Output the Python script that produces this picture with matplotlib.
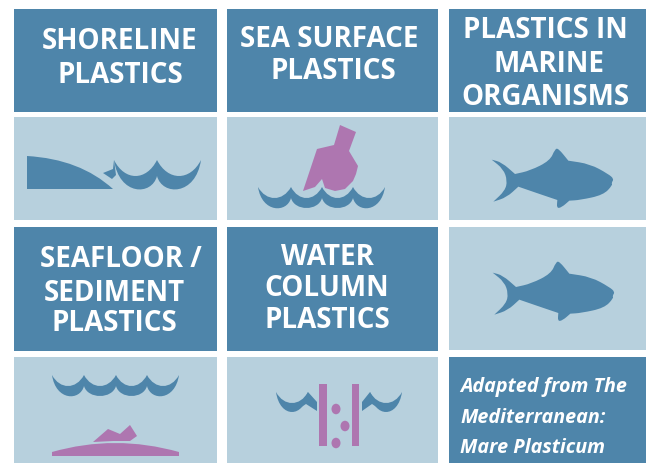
import matplotlib
matplotlib.use("Agg")
import matplotlib.pyplot as plt
from matplotlib.patches import Rectangle, Polygon, PathPatch, Ellipse
from matplotlib.path import Path

DARK = "#4e85aa"
LIGHT = "#b7d0dd"
PURPLE = "#ae76b0"

headers = [
    (14, 10, 217, 113),
    (227, 10, 438, 113),
    (449, 10, 646, 113),
    (14, 228, 217, 352),
    (227, 228, 438, 352),
    (449, 358, 646, 464),
]
panels = [
    (14, 118, 217, 221),
    (227, 118, 438, 221),
    (449, 118, 646, 221),
    (449, 228, 646, 351),
    (14, 358, 217, 464),
    (227, 358, 438, 464),
]
# text, centre x, y of each line
labels = [
    ("SHORELINE", 120, 39), ("PLASTICS", 120, 73),
    ("SEA SURFACE", 329, 37), ("PLASTICS", 333, 69),
    ("PLASTICS IN", 545, 28), ("MARINE", 549, 62), ("ORGANISMS", 545, 95),
    ("SEAFLOOR /", 121, 257), ("SEDIMENT", 114, 291), ("PLASTICS", 114, 321),
    ("WATER", 327, 255), ("COLUMN", 327, 286), ("PLASTICS", 327, 318),
]
note_lines = ["Adapted from The", "Mediterranean:", "Mare Plasticum"]
note_y = [385, 416, 446]

shore_tip = [(114, 161), (113, 170), (103, 174), (112, 180), (116, 176)]
bottle = [(340, 126), (356, 133), (349, 152), (358, 167), (356, 175), (353, 182), (345, 190),
          (335, 192), (325, 189), (322, 180), (315, 188), (303, 192), (317, 150), (334, 146)]
debris = [(93, 443), (108, 430), (120, 435), (130, 426), (137, 437), (130, 442), (113, 442)]
# repeated points stay sharp when the outline is smoothed
fish = [(155, 122), (155, 122), (185, 130), (225, 165), (225, 165), (270, 155), (330, 125),
        (345, 90), (355, 88), (385, 125), (385, 125), (450, 135), (505, 165), (522, 180),
        (514, 192), (518, 198), (490, 228), (420, 243), (388, 245), (388, 245),
        (365, 265), (350, 268), (352, 243), (352, 243), (290, 222), (235, 203), (235, 203),
        (200, 235), (160, 248), (160, 248), (195, 215), (202, 185), (190, 150)]

# scallop cusps: x positions, cusp y, bottom y, inner y
wave_shore = ([114, 157, 201], 161, 190, 177)
wave_sea = ([258, 291, 322, 353, 385], 188, 209, 199)
wave_floor = ([52, 84, 116, 147, 179], 376, 397, 387)
wave_left = ([276, 308], 393, 413, 404)
wave_right = ([370, 402], 393, 413, 404)
col_bars = [(319, 385, 327, 447), (352, 385, 359, 447)]
col_dots = [(336, 410), (345, 427), (336, 444)]


def wave_path(xs, top, bottom, inner):
    verts = [(xs[0], top)]
    codes = [Path.MOVETO]
    notch = inner
    n = len(xs) - 1
    # lower edge going right, notches between scallops
    for i in range(n):
        a, b = xs[i], xs[i + 1]
        w = b - a
        ya = top if i == 0 else notch
        yb = top if i == n - 1 else notch
        c = bottom + (bottom - (ya + yb) / 2) / 3
        verts += [(a + 0.12 * w, c), (b - 0.12 * w, c), (b, yb)]
        codes += [Path.CURVE4] * 3
    # upper edge coming back, sharp cusps
    for i in range(n - 1, -1, -1):
        a, b = xs[i], xs[i + 1]
        w = b - a
        c = top + (inner - top) * 4 / 3
        verts += [(b - 0.25 * w, c), (a + 0.25 * w, c), (a, top)]
        codes += [Path.CURVE4] * 3
    return Path(verts, codes)


def smooth_path(points):
    start = ((points[-1][0] + points[0][0]) / 2, (points[-1][1] + points[0][1]) / 2)
    verts = [start]
    codes = [Path.MOVETO]
    for i, p in enumerate(points):
        q = points[(i + 1) % len(points)]
        verts += [p, ((p[0] + q[0]) / 2, (p[1] + q[1]) / 2)]
        codes += [Path.CURVE3, Path.CURVE3]
    return Path(verts, codes)


fig = plt.figure(figsize=(6.48, 4.64), dpi=100)
ax = fig.add_axes([0, 0, 1, 1])
ax.set_xlim(0, 648)
ax.set_ylim(464, 0)
ax.axis("off")

for x0, y0, x1, y1 in headers:
    ax.add_patch(Rectangle((x0, y0), x1 - x0, y1 - y0, color=DARK, lw=0))
for x0, y0, x1, y1 in panels:
    ax.add_patch(Rectangle((x0, y0), x1 - x0, y1 - y0, color=LIGHT, lw=0))

for line, cx, y in labels:
    ax.text(cx, y + 2.5, line, color="white", fontsize=20, fontweight="bold", family="Open Sans",
            ha="center", va="center")
for line, y in zip(note_lines, note_y):
    ax.text(460, y + 2, line, color="white", fontsize=14.2, fontweight="bold", style="italic",
            family="Open Sans", ha="left", va="center")

# shoreline
land = Path([(27, 157), (80, 160), (113, 190), (27, 190), (27, 157)],
            [Path.MOVETO, Path.CURVE3, Path.CURVE3, Path.LINETO, Path.CLOSEPOLY])
ax.add_patch(PathPatch(land, color=DARK, lw=0))
ax.add_patch(Polygon(shore_tip, color=DARK, lw=0))
for w in [wave_shore, wave_sea, wave_floor, wave_left, wave_right]:
    ax.add_patch(PathPatch(wave_path(*w), color=DARK, lw=0))
# stubs running into the bars in the water column panel
ax.add_patch(Polygon([(308, 393), (317, 403), (317, 412), (306, 405), (300, 409), (303, 402)], color=DARK, lw=0))
ax.add_patch(Polygon([(370, 393), (362, 403), (362, 412), (372, 405), (378, 409), (375, 402)], color=DARK, lw=0))

ax.add_patch(PathPatch(smooth_path([(440 + x / 3, 120 + y / 3) for x, y in fish]), color=DARK, lw=0))
ax.add_patch(PathPatch(smooth_path([(441 + x / 3, 233 + y / 3) for x, y in fish]), color=DARK, lw=0))

ax.add_patch(Polygon(bottle, color=PURPLE, lw=0))
mound = Path([(52, 453), (115, 435), (179, 453), (179, 457), (52, 457), (52, 453)],
             [Path.MOVETO, Path.CURVE3, Path.CURVE3, Path.LINETO, Path.LINETO, Path.CLOSEPOLY])
ax.add_patch(PathPatch(mound, color=PURPLE, lw=0))
ax.add_patch(Polygon(debris, color=PURPLE, lw=0))
for x0, y0, x1, y1 in col_bars:
    ax.add_patch(Rectangle((x0, y0), x1 - x0, y1 - y0, color=PURPLE, lw=0))
for x, y in col_dots:
    ax.add_patch(Ellipse((x, y), 9, 10.5, color=PURPLE, lw=0))

fig.savefig("out.png", dpi=100)
